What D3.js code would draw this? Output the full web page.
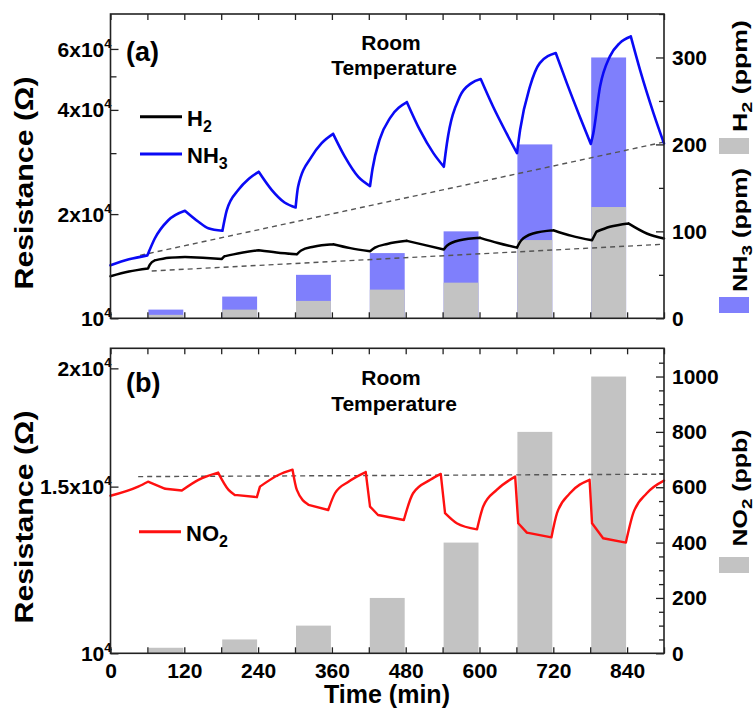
<!DOCTYPE html>
<html><head><meta charset="utf-8">
<script src="https://cdn.jsdelivr.net/npm/d3@7"></script>
<style>body{margin:0;background:#fff}svg text{font-family:"Liberation Sans",Arial,Helvetica,sans-serif;font-weight:bold;fill:#000}</style>
</head><body>
<svg id="c" width="755" height="711"></svg>
<script>
// ---------- data ----------
const barStart = [60,180,300,420,540,660,780];
const barDuration = [60,60,60,60,60,60,60];
const h2Conc  = [4,10,20,33,41,90,128];      // ppm
const nh3Conc = [10,25,50,75,100,200,300];   // ppm
const no2Conc = [20,50,100,200,400,800,1000];// ppb

const nh3Time = [0,30,60,62,72,94,121,143,159,182,189,208,225,241,262,283,301,305,327,343,362,381,403,422,426,438,455,482,503,525,542,547,568,587,602,622,644,661,666,682,698,724,742,763,781,785,796,812,828,846,861,883,900];
const nh3Res  = [14230,14800,15200,15500,17000,19200,20450,19000,18200,17900,20500,23500,25300,26500,23500,21600,20900,24000,29300,32000,34100,29300,25600,24100,27000,33000,38000,42100,35000,30000,27400,32000,43700,47800,49100,40900,34200,30000,35000,46700,54600,58400,47800,38300,31900,34200,46700,57100,62400,65200,52200,39100,32000];

const h2Time = [0,30,61,64,72,95,121,150,181,185,200,241,270,303,310,330,362,390,422,430,450,482,510,542,547,568,601,630,661,668,687,720,750,783,790,812,842,872,900];
const h2Res  = [13230,13650,13930,14300,14700,14950,15040,14950,14840,15100,15300,15730,15500,15300,15700,16100,16370,15950,15630,16000,16400,16740,16300,15800,16200,16800,17080,16500,16000,16800,17580,17970,17300,16800,17780,18380,18800,17580,17000];

const no2Time = [0,45,61,89,116,143,175,192,202,238,243,273,296,303,322,354,365,387,415,422,435,477,492,520,537,544,563,596,606,628,658,663,677,717,726,747,779,783,801,838,850,872,900];
const no2Res  = [14670,15000,15180,14920,14860,15250,15520,14880,14700,14620,15000,15430,15630,14880,14350,14170,14760,15180,15540,14290,14000,13830,14760,15250,15470,14060,13720,13520,14290,14880,15370,13720,13410,13260,14060,14760,15250,13720,13230,13090,14060,14760,15220];

const dashNh3Time = [48,900],  dashNh3Res = [15200,32300];
const dashH2Time  = [67,900],  dashH2Res  = [13700,16370];
const dashNo2Time = [45,900],  dashNo2Res = [15370,15460];

const xTickValues  = d3.range(0, 901, 60);
const xLabelValues = [0,120,240,360,480,600,720,840];
const topLeftMajor = [1e4,2e4,4e4,6e4], topLeftMinor = [3e4,5e4];
const topRightMajor = [0,100,200,300], topRightMinor = [50,150,250,350];
const botLeftMajor = [1e4,1.5e4,2e4];
const botRightMajor = [0,200,400,600,800,1000];
const botRightMinor = d3.range(50,1100,50).filter(v=>v%200!==0);

// ---------- layout ----------
const svg = d3.select('#c');
const L = 110.5, R = 664;
const x = d3.scaleLinear([0,900],[L,R]);
const yA = d3.scaleLog([1e4,7.57e4],[318.3,14]);
const yAr = d3.scaleLinear([0,350],[318.3,14]);
const yB = d3.scaleLog([1e4,2.1e4],[653.3,348.3]);
const yBr = d3.scaleLinear([0,1102],[653.3,348.3]);

const BLUE_BAR = '#7f7ffc', GRAY_BAR = '#c3c3c3';

function bars(g, conc, yS, color){
  g.selectAll(null).data(conc).join('rect')
    .attr('x',(d,i)=>x(barStart[i])+1)
    .attr('width',(d,i)=>x(barStart[i]+barDuration[i])-x(barStart[i])-2)
    .attr('y',d=>yS(d)).attr('height',d=>yS(0)-yS(d))
    .attr('fill',color);
}

function splitSegments(t, v){
  const pts = t.map((tt,i)=>[tt,v[i]]);
  const segs=[]; let cur=[pts[0]];
  for(let i=1;i<pts.length;i++){
    cur.push(pts[i]);
    if(i<pts.length-1){
      const s1=(pts[i][1]-pts[i-1][1])/(pts[i][0]-pts[i-1][0]);
      const s2=(pts[i+1][1]-pts[i][1])/(pts[i+1][0]-pts[i][0]);
      const a1=Math.abs(s1), a2=Math.abs(s2);
      if(s1*s2<0 || a2>4*a1 || a1>4*a2){segs.push(cur);cur=[pts[i]];}
    }
  }
  segs.push(cur);
  return segs;
}
function curve(g, t, v, yS, color, w){
  const line = d3.line().x(d=>x(d[0])).y(d=>yS(d[1])).curve(d3.curveMonotoneX);
  const d = splitSegments(t,v).map(s=>line(s)).join('');
  g.append('path').attr('d',d).attr('fill','none').attr('stroke',color)
    .attr('stroke-width',w).attr('stroke-linejoin','round').attr('stroke-linecap','round');
}
function dashed(g, t, v, yS){
  const line = d3.line().x(d=>x(d[0])).y(d=>yS(d[1]));
  g.append('path').attr('d',line(t.map((tt,i)=>[tt,v[i]]))).attr('fill','none')
    .attr('stroke','#555').attr('stroke-width',1.4).attr('stroke-dasharray','5,4');
}

function styleAxis(g){
  g.select('.domain').remove();
  g.selectAll('line').attr('stroke','#222').attr('stroke-width',1.3);
  g.selectAll('text').attr('font-size',21).attr('font-family','"Liberation Sans",Arial,sans-serif').attr('font-weight','bold').attr('fill','#000');
}

function panel(top, bottom, yL, yR, leftMajor, leftMinor, rightMajor, rightMinor, showX){
  const gxb = svg.append('g').attr('transform',`translate(0,${bottom})`)
    .call(d3.axisBottom(x).tickValues(xTickValues).tickSize(-6).tickPadding(10)
      .tickFormat(d=> showX && xLabelValues.includes(d) ? d : ''));
  styleAxis(gxb);
  const gxt = svg.append('g').attr('transform',`translate(0,${top})`)
    .call(d3.axisTop(x).tickValues(xTickValues).tickSize(-6).tickFormat(''));
  styleAxis(gxt);
  const gl = svg.append('g').attr('transform',`translate(${L},0)`)
    .call(d3.axisLeft(yL).tickValues(leftMajor).tickSize(-8).tickFormat(''));
  styleAxis(gl);
  if(leftMinor.length){
    const glm = svg.append('g').attr('transform',`translate(${L},0)`)
      .call(d3.axisLeft(yL).tickValues(leftMinor).tickSize(-6).tickFormat(''));
    styleAxis(glm);
  }
  leftMajor.forEach(v=>{
    const m = v/1e4;
    const t = svg.append('text').attr('x',L+1).attr('y',yL(v)).attr('dy','0.36em')
      .attr('text-anchor','end').attr('font-size',21);
    t.append('tspan').text(m===1 ? '10' : `${m}x10`);
    t.append('tspan').attr('dy',-9).attr('font-size',13).text('4');
  });
  const gr = svg.append('g').attr('transform',`translate(${R},0)`)
    .call(d3.axisRight(yR).tickValues(rightMajor).tickSize(-8).tickPadding(8).tickFormat(d3.format('d')));
  styleAxis(gr);
  const grm = svg.append('g').attr('transform',`translate(${R},0)`)
    .call(d3.axisRight(yR).tickValues(rightMinor).tickSize(-5).tickFormat(''));
  styleAxis(grm);
  svg.append('rect').attr('x',L).attr('y',top).attr('width',R-L).attr('height',bottom-top)
    .attr('fill','none').attr('stroke','#222').attr('stroke-width',1.6);
}

// ---------- panel (a) ----------
const ga = svg.append('g');
bars(ga, nh3Conc, yAr, BLUE_BAR);
bars(ga, h2Conc, yAr, GRAY_BAR);
dashed(ga, dashNh3Time, dashNh3Res, yA);
dashed(ga, dashH2Time, dashH2Res, yA);
curve(ga, h2Time, h2Res, yA, '#000', 2.5);
curve(ga, nh3Time, nh3Res, yA, '#0a0af5', 2.6);
panel(14, 318.3, yA, yAr, topLeftMajor, topLeftMinor, topRightMajor, topRightMinor, false);

// ---------- panel (b) ----------
const gb = svg.append('g');
bars(gb, no2Conc, yBr, GRAY_BAR);
dashed(gb, dashNo2Time, dashNo2Res, yB);
curve(gb, no2Time, no2Res, yB, '#ff1010', 2.4);
panel(348.3, 653.3, yB, yBr, botLeftMajor, [], botRightMajor, botRightMinor, true);

// ---------- text ----------
function txt(xx,yy,s,size,anchor){return svg.append('text').attr('x',xx).attr('y',yy).attr('font-size',size).attr('text-anchor',anchor||'start').text(s);}
txt(126,61,'(a)',27);
txt(126,392,'(b)',27);
txt(391,50,'Room',21,'middle'); txt(394,75,'Temperature',21,'middle');
txt(391,385,'Room',21,'middle'); txt(394,411,'Temperature',21,'middle');
txt(387,703,'Time (min)',25,'middle');

function rotLabel(cx,cy,parts,size,len){
  const t = svg.append('text').attr('transform',`translate(${cx},${cy}) rotate(-90)`)
    .attr('text-anchor','middle').attr('font-size',size);
  if(len) t.attr('textLength',len).attr('lengthAdjust','spacingAndGlyphs');
  parts.forEach(p=>{const s=t.append('tspan').text(p.t); if(p.sub){s.attr('dy',5).attr('font-size',size*0.75);} if(p.back){s.attr('dy',-5);} });
}
rotLabel(33,183,[{t:'Resistance (Ω)'}],26,213);
rotLabel(33,517,[{t:'Resistance (Ω)'}],26,213);
rotLabel(747,76,[{t:'H'},{t:'2',sub:1},{t:' (ppm)',back:1}],20,112);
rotLabel(747,230,[{t:'NH'},{t:'3',sub:1},{t:' (ppm)',back:1}],20,124);
rotLabel(747,488,[{t:'NO'},{t:'2',sub:1},{t:' (ppb)',back:1}],20,117);
svg.append('rect').attr('x',719).attr('y',138).attr('width',30).attr('height',16).attr('fill',GRAY_BAR);
svg.append('rect').attr('x',719).attr('y',297).attr('width',30).attr('height',16).attr('fill',BLUE_BAR);
svg.append('rect').attr('x',719).attr('y',557).attr('width',30).attr('height',16).attr('fill',GRAY_BAR);

function legend(x1,yy,color,main,sub){
  svg.append('line').attr('x1',x1).attr('x2',x1+42).attr('y1',yy).attr('y2',yy).attr('stroke',color).attr('stroke-width',3);
  const t = svg.append('text').attr('x',x1+47).attr('y',yy+9).attr('font-size',22);
  t.append('tspan').text(main);
  t.append('tspan').attr('dy',6).attr('font-size',16).text(sub);
}
legend(140,116.7,'#000','H','2');
legend(140,154,'#0a0af5','NH','3');
legend(139,531.7,'#ff1010','NO','2');
</script>
</body></html>
